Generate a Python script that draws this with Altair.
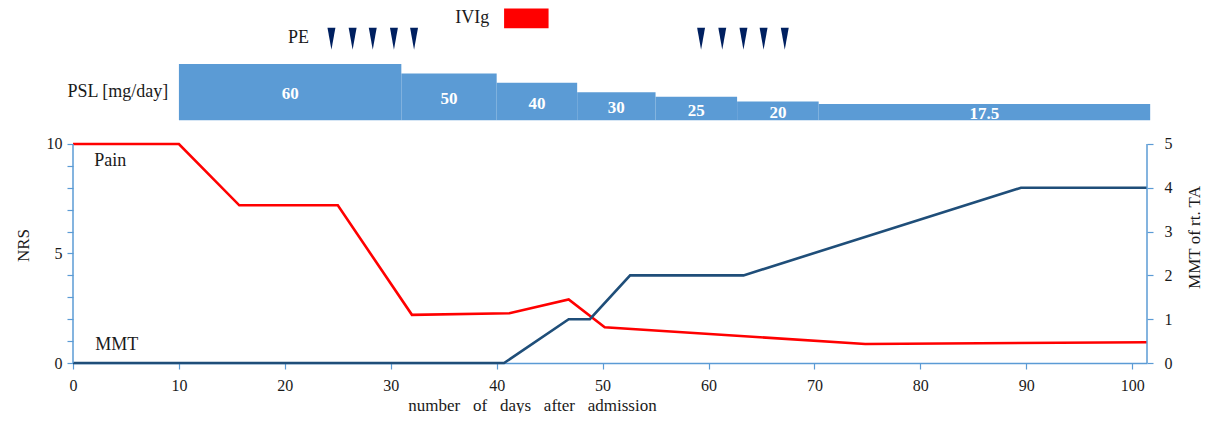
import altair as alt
import pandas as pd

# ---------------- data ----------------
pain_day = [0, 10, 15.7, 25, 32, 41.2, 46.8, 50.2, 74.8, 101.4]
pain_nrs = [10, 10, 7.2, 7.2, 2.2, 2.27, 2.9, 1.63, 0.87, 0.95]

mmt_day = [0, 40.7, 46.8, 48.8, 52.6, 63.3, 89.5, 101.4]
mmt_val = [0, 0, 1, 1, 2, 2, 4, 4]

psl_start = [10, 31, 40, 47.6, 55, 62.7, 70.4]
psl_end = [31, 40, 47.6, 55, 62.7, 70.4, 101.7]
psl_dose = [60, 50, 40, 30, 25, 20, 17.5]
psl_label = ["60", "50", "40", "30", "25", "20", "17.5"]

pe_days = [24.4, 26.4, 28.3, 30.3, 32.2, 59.3, 61.3, 63.3, 65.2, 67.2]
ivig_start = [40.7]
ivig_end = [44.9]

x_ticks = list(range(0, 101, 10))
nrs_ticks = list(range(0, 11))
mmt_ticks = list(range(0, 6))

# ---------------- styling ----------------
FONT = "Liberation Serif"
TXT = "#1a1a1a"
AXIS_BLUE = "#5b9bd5"
BAR_BLUE = "#5b9bd5"
RED = "#ff0000"
NAVY_LINE = "#1f4e79"
NAVY_TRI = "#002060"

W, H = 1074, 355
X_MAX = 101.4

pain_df = pd.DataFrame({"day": pain_day, "nrs": pain_nrs})
mmt_df = pd.DataFrame({"day": mmt_day, "mmt": mmt_val})
psl_df = pd.DataFrame({"start": psl_start, "end": psl_end, "dose": psl_dose,
                       "label": psl_label, "base": [0] * len(psl_dose)})
pe_df = pd.DataFrame({"day": pe_days})
ivig_df = pd.DataFrame({"start": ivig_start, "end": ivig_end})

xscale = alt.Scale(domain=[0, X_MAX], nice=False, zero=False)
nrs_scale = alt.Scale(domain=[0, 16.21], nice=False, zero=False)
mmt_scale = alt.Scale(domain=[0, 8.105], nice=False, zero=False)
dose_scale = alt.Scale(domain=[-258.7, 119.7], nice=False, zero=False)

GAP = "\u00a0\u00a0\u00a0"
# the same x axis spec is given to every layer so the shared axis merges cleanly
x_axis = alt.Axis(
    values=x_ticks, grid=False, domainColor=AXIS_BLUE, domainWidth=1.5,
    tickColor=AXIS_BLUE, tickSize=6, tickWidth=1.2,
    labelFont=FONT, labelFontSize=16, labelColor=TXT, labelPadding=8,
    labelFlush=False, labelOverlap=False,
    title=GAP.join(["number", "of", "days", "after", "admission"]),
    titleFont=FONT, titleFontSize=17, titleFontWeight="normal", titleColor=TXT,
    titleX=459, titleY=47, titleBaseline="alphabetic", titleAlign="center",
)


def X(field):
    return alt.X(field, scale=xscale, axis=x_axis)


left_axis = alt.Axis(
    orient="left", values=nrs_ticks,
    labelExpr="datum.value % 5 == 0 ? datum.label : ''",
    domain=False, grid=False, tickColor=AXIS_BLUE, tickSize=6, tickWidth=1.2,
    labelFont=FONT, labelFontSize=16, labelColor=TXT, labelPadding=5,
    labelFlush=False, labelOverlap=False,
    title="NRS", titleFont=FONT, titleFontSize=17, titleFontWeight="normal",
    titleColor=TXT, titleAngle=270, titleX=-45, titleY=237,
    titleBaseline="alphabetic", titleAlign="center",
)

right_axis = alt.Axis(
    orient="right", values=mmt_ticks,
    domain=False, grid=False, tickColor=AXIS_BLUE, tickSize=6, tickWidth=1.2,
    labelFont=FONT, labelFontSize=16, labelColor=TXT, labelPadding=11,
    labelFlush=False, labelOverlap=False,
    title="MMT of rt. TA", titleFont=FONT, titleFontSize=17, titleFontWeight="normal",
    titleColor=TXT, titleAngle=270, titleX=52, titleY=229,
    titleBaseline="alphabetic", titleAlign="center",
)

# ---------- Pain (NRS, left axis) ----------
pain_line = alt.Chart(pain_df).mark_line(color=RED, strokeWidth=2.6).encode(
    x=X("day:Q"),
    y=alt.Y("nrs:Q", scale=nrs_scale, axis=left_axis),
)
axis_l = pd.DataFrame({"d": [0], "lo": [0], "hi": [10]})
left_rule = alt.Chart(axis_l).mark_rule(color=AXIS_BLUE, strokeWidth=1.5).encode(
    x=X("d:Q"),
    y=alt.Y("lo:Q", scale=nrs_scale, axis=None),
    y2="hi:Q",
)

# ---------- MMT (right axis) ----------
mmt_line = alt.Chart(mmt_df).mark_line(color=NAVY_LINE, strokeWidth=2.6).encode(
    x=X("day:Q"),
    y=alt.Y("mmt:Q", scale=mmt_scale, axis=right_axis),
)
axis_r = pd.DataFrame({"d": [X_MAX], "lo": [0], "hi": [5]})
right_rule = alt.Chart(axis_r).mark_rule(color=AXIS_BLUE, strokeWidth=1.5).encode(
    x=X("d:Q"),
    y=alt.Y("lo:Q", scale=mmt_scale, axis=None),
    y2="hi:Q",
)

# ---------- PSL bars and top annotations (own y scale) ----------
bars = alt.Chart(psl_df).mark_rect(color=BAR_BLUE).encode(
    x=X("start:Q"),
    x2="end:Q",
    y=alt.Y("dose:Q", scale=dose_scale, axis=None),
    y2="base:Q",
)
bar_text = alt.Chart(psl_df).transform_calculate(
    mid="(datum.start + datum.end) / 2", half="datum.dose / 2"
).mark_text(color="white", font=FONT, fontSize=17, fontWeight="bold",
            baseline="middle", align="center", dy=2).encode(
    x=X("mid:Q"),
    y=alt.Y("half:Q", scale=dose_scale, axis=None),
    text="label:N",
)

pe_marks = alt.Chart(pe_df).mark_point(
    shape="M-0.36,-1L0.36,-1L0,1Z", filled=True, color=NAVY_TRI,
    size=484, opacity=1, strokeWidth=0,
).encode(x=X("day:Q"), y=alt.value(30.7))

ivig_box = alt.Chart(ivig_df).mark_rect(color=RED).encode(
    x=X("start:Q"), x2="end:Q",
    y=alt.value(0.5), y2=alt.value(20.3),
)


def label(text, day, ypx, align="center", size=18):
    return alt.Chart(pd.DataFrame({"t": [text], "d": [day]})).mark_text(
        font=FONT, fontSize=size, color=TXT, align=align, baseline="middle",
    ).encode(x=X("d:Q"), y=alt.value(ypx), text="t:N")


dose_layer = alt.layer(
    bars, bar_text, pe_marks, ivig_box,
    label("PE", 21.3, 30.3),
    label("IVIg", 37.7, 10.3),
    label("PSL [mg/day]", 9.0, 83.7, align="right"),
    label("Pain", 2.0, 152.7, align="left"),
    label("MMT", 2.1, 337, align="left"),
)

chart = alt.layer(pain_line, mmt_line, dose_layer, left_rule, right_rule).resolve_scale(
    y="independent"
).properties(
    width=W, height=H,
    padding={"left": 65, "top": 0, "right": 58, "bottom": 50},
    autosize=alt.AutoSizeParams(type="none"),
).configure_view(stroke=None)

chart.save("out.html", embed_options={"renderer": "svg", "actions": False})
